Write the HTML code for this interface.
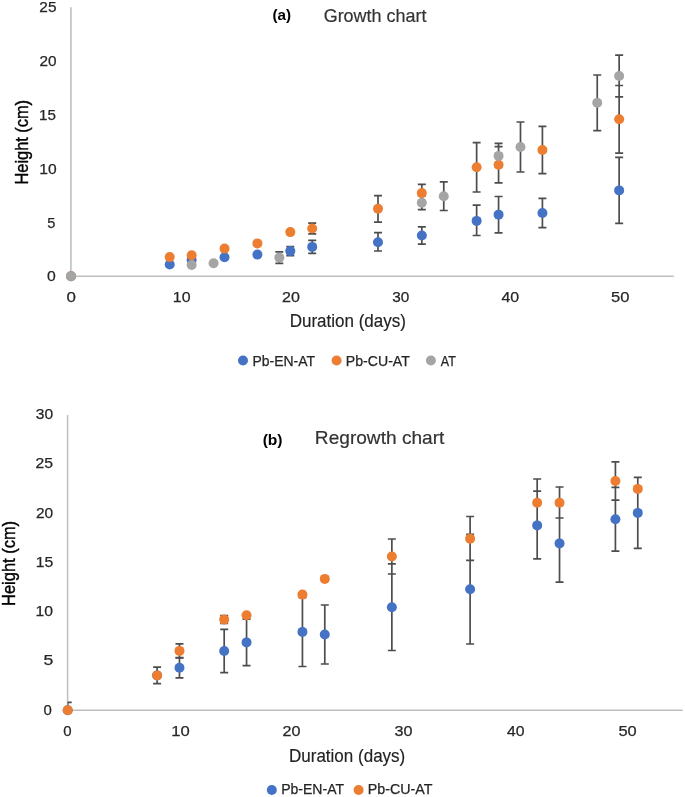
<!DOCTYPE html>
<html><head><meta charset="utf-8"><style>
html,body{margin:0;padding:0;background:#fff;}
svg{display:block;will-change:transform;}
body{-webkit-font-smoothing:antialiased;}
text{font-family:"Liberation Sans",sans-serif;}
</style></head><body>
<svg width="685" height="797" viewBox="0 0 685 797">
<rect width="685" height="797" fill="#fff"/>
<defs><clipPath id="ca"><rect x="70.9" y="7.2" width="602.9" height="269.0"/></clipPath></defs>
<line x1="70.9" y1="7.2" x2="70.9" y2="276.2" stroke="#BFBFBF" stroke-width="1.6"/>
<line x1="70.9" y1="276.2" x2="673.8" y2="276.2" stroke="#BFBFBF" stroke-width="1.6"/>
<g clip-path="url(#ca)" stroke="#4d4d4d" stroke-width="1.7" fill="none">
<path d="M286.29 246.65H294.29M286.29 255.55H294.29"/>
<path d="M308.21 240.40H316.21M308.21 253.40H316.21"/>
<path d="M373.99 232.70H381.99M373.99 251.00H381.99"/>
<path d="M417.83 226.80H425.83M417.83 244.20H425.83"/>
<path d="M472.64 205.20H480.64M472.64 235.50H480.64"/>
<path d="M494.57 196.50H502.57M494.57 232.80H502.57"/>
<path d="M538.42 198.35H546.42M538.42 227.65H546.42"/>
<path d="M615.15 157.40H623.15M615.15 223.40H623.15"/>
<path d="M308.21 223.15H316.21M308.21 233.85H316.21"/>
<path d="M373.99 195.60H381.99M373.99 222.20H381.99"/>
<path d="M417.83 184.30H425.83M417.83 201.90H425.83"/>
<path d="M472.64 142.60H480.64M472.64 192.00H480.64"/>
<path d="M494.57 146.60H502.57M494.57 182.80H502.57"/>
<path d="M538.42 126.30H546.42M538.42 173.70H546.42"/>
<path d="M615.15 85.50H623.15M615.15 153.10H623.15"/>
<path d="M275.33 251.90H283.33M275.33 263.30H283.33"/>
<path d="M417.83 196.00H425.83M417.83 209.60H425.83"/>
<path d="M439.76 181.90H447.76M439.76 210.50H447.76"/>
<path d="M494.57 143.40H502.57M494.57 167.00H502.57"/>
<path d="M516.49 122.00H524.49M516.49 172.00H524.49"/>
<path d="M593.23 75.00H601.23M593.23 130.60H601.23"/>
<path d="M615.15 55.10H623.15M615.15 96.90H623.15"/>
<path d="M290.29 246.65V255.55"/>
<path d="M312.21 223.15V233.85"/>
<path d="M312.21 240.40V253.40"/>
<path d="M377.99 195.60V222.20"/>
<path d="M377.99 232.70V251.00"/>
<path d="M421.83 184.30V209.60"/>
<path d="M421.83 226.80V244.20"/>
<path d="M476.64 142.60V192.00"/>
<path d="M476.64 205.20V235.50"/>
<path d="M498.57 143.40V182.80"/>
<path d="M498.57 196.50V232.80"/>
<path d="M542.42 126.30V173.70"/>
<path d="M542.42 198.35V227.65"/>
<path d="M619.15 55.10V153.10"/>
<path d="M619.15 157.40V223.40"/>
<path d="M279.33 251.90V263.30"/>
<path d="M443.76 181.90V210.50"/>
<path d="M520.49 122.00V172.00"/>
<path d="M597.23 75.00V130.60"/>
</g>
<circle cx="71.05" cy="276.20" r="5.0" fill="#4472C4"/>
<circle cx="169.71" cy="264.50" r="5.0" fill="#4472C4"/>
<circle cx="191.63" cy="259.90" r="5.0" fill="#4472C4"/>
<circle cx="224.52" cy="257.30" r="5.0" fill="#4472C4"/>
<circle cx="257.40" cy="254.60" r="5.0" fill="#4472C4"/>
<circle cx="290.29" cy="251.10" r="5.0" fill="#4472C4"/>
<circle cx="312.21" cy="246.90" r="5.0" fill="#4472C4"/>
<circle cx="377.99" cy="242.30" r="5.0" fill="#4472C4"/>
<circle cx="421.83" cy="235.50" r="5.0" fill="#4472C4"/>
<circle cx="476.64" cy="220.90" r="5.0" fill="#4472C4"/>
<circle cx="498.57" cy="214.65" r="5.0" fill="#4472C4"/>
<circle cx="542.42" cy="213.00" r="5.0" fill="#4472C4"/>
<circle cx="619.15" cy="190.40" r="5.0" fill="#4472C4"/>
<circle cx="71.05" cy="276.20" r="5.0" fill="#ED7D31"/>
<circle cx="169.71" cy="257.10" r="5.0" fill="#ED7D31"/>
<circle cx="191.63" cy="255.20" r="5.0" fill="#ED7D31"/>
<circle cx="224.52" cy="248.60" r="5.0" fill="#ED7D31"/>
<circle cx="257.40" cy="243.40" r="5.0" fill="#ED7D31"/>
<circle cx="290.29" cy="232.10" r="5.0" fill="#ED7D31"/>
<circle cx="312.21" cy="228.50" r="5.0" fill="#ED7D31"/>
<circle cx="377.99" cy="208.80" r="5.0" fill="#ED7D31"/>
<circle cx="421.83" cy="193.10" r="5.0" fill="#ED7D31"/>
<circle cx="476.64" cy="167.30" r="5.0" fill="#ED7D31"/>
<circle cx="498.57" cy="164.70" r="5.0" fill="#ED7D31"/>
<circle cx="542.42" cy="150.00" r="5.0" fill="#ED7D31"/>
<circle cx="619.15" cy="119.30" r="5.0" fill="#ED7D31"/>
<circle cx="71.05" cy="276.20" r="5.0" fill="#A5A5A5"/>
<circle cx="191.63" cy="265.00" r="5.0" fill="#A5A5A5"/>
<circle cx="213.56" cy="263.20" r="5.0" fill="#A5A5A5"/>
<circle cx="279.33" cy="257.60" r="5.0" fill="#A5A5A5"/>
<circle cx="421.83" cy="202.80" r="5.0" fill="#A5A5A5"/>
<circle cx="443.76" cy="196.20" r="5.0" fill="#A5A5A5"/>
<circle cx="498.57" cy="155.90" r="5.0" fill="#A5A5A5"/>
<circle cx="520.49" cy="147.00" r="5.0" fill="#A5A5A5"/>
<circle cx="597.23" cy="102.80" r="5.0" fill="#A5A5A5"/>
<circle cx="619.15" cy="76.00" r="5.0" fill="#A5A5A5"/>
<defs><clipPath id="cb"><rect x="67.6" y="415.0" width="615.1999999999999" height="295.29999999999995"/></clipPath></defs>
<line x1="67.6" y1="415.0" x2="67.6" y2="710.3" stroke="#BFBFBF" stroke-width="1.5"/>
<line x1="67.6" y1="710.3" x2="682.8" y2="710.3" stroke="#BFBFBF" stroke-width="1.5"/>
<g clip-path="url(#cb)" stroke="#4d4d4d" stroke-width="1.7" fill="none">
<path d="M175.48 657.60H183.48M175.48 677.80H183.48"/>
<path d="M220.19 629.30H228.19M220.19 672.70H228.19"/>
<path d="M242.55 619.20H250.55M242.55 665.60H250.55"/>
<path d="M298.44 597.30H306.44M298.44 666.50H306.44"/>
<path d="M320.79 605.00H328.79M320.79 664.00H328.79"/>
<path d="M387.86 563.90H395.86M387.86 650.50H395.86"/>
<path d="M466.11 534.40H474.11M466.11 644.00H474.11"/>
<path d="M533.18 491.10H541.18M533.18 558.90H541.18"/>
<path d="M555.53 504.70H563.53M555.53 582.10H563.53"/>
<path d="M611.42 487.30H619.42M611.42 551.10H619.42"/>
<path d="M633.78 477.40H641.78M633.78 548.40H641.78"/>
<path d="M63.70 702.40H71.70M63.70 718.00H71.70"/>
<path d="M153.12 667.10H161.12M153.12 683.70H161.12"/>
<path d="M175.48 643.90H183.48M175.48 657.90H183.48"/>
<path d="M220.19 615.70H228.19M220.19 623.50H228.19"/>
<path d="M387.86 539.00H395.86M387.86 574.00H395.86"/>
<path d="M466.11 516.50H474.11M466.11 560.30H474.11"/>
<path d="M533.18 479.00H541.18M533.18 526.60H541.18"/>
<path d="M555.53 487.00H563.53M555.53 518.00H563.53"/>
<path d="M611.42 461.90H619.42M611.42 500.10H619.42"/>
<path d="M179.48 643.90V677.80"/>
<path d="M224.19 615.70V623.50"/>
<path d="M224.19 629.30V672.70"/>
<path d="M246.55 619.20V665.60"/>
<path d="M302.44 597.30V666.50"/>
<path d="M324.79 605.00V664.00"/>
<path d="M391.86 539.00V650.50"/>
<path d="M470.11 516.50V644.00"/>
<path d="M537.18 479.00V558.90"/>
<path d="M559.53 487.00V582.10"/>
<path d="M615.42 461.90V551.10"/>
<path d="M637.78 477.40V548.40"/>
<path d="M67.70 702.40V718.00"/>
<path d="M157.12 667.10V683.70"/>
</g>
<circle cx="67.70" cy="710.20" r="5.0" fill="#4472C4"/>
<circle cx="157.12" cy="675.40" r="5.0" fill="#4472C4"/>
<circle cx="179.48" cy="667.70" r="5.0" fill="#4472C4"/>
<circle cx="224.19" cy="651.00" r="5.0" fill="#4472C4"/>
<circle cx="246.55" cy="642.40" r="5.0" fill="#4472C4"/>
<circle cx="302.44" cy="631.90" r="5.0" fill="#4472C4"/>
<circle cx="324.79" cy="634.50" r="5.0" fill="#4472C4"/>
<circle cx="391.86" cy="607.20" r="5.0" fill="#4472C4"/>
<circle cx="470.11" cy="589.20" r="5.0" fill="#4472C4"/>
<circle cx="537.18" cy="525.40" r="5.0" fill="#4472C4"/>
<circle cx="559.53" cy="543.40" r="5.0" fill="#4472C4"/>
<circle cx="615.42" cy="519.20" r="5.0" fill="#4472C4"/>
<circle cx="637.78" cy="512.90" r="5.0" fill="#4472C4"/>
<circle cx="67.70" cy="710.20" r="5.0" fill="#ED7D31"/>
<circle cx="157.12" cy="675.40" r="5.0" fill="#ED7D31"/>
<circle cx="179.48" cy="650.90" r="5.0" fill="#ED7D31"/>
<circle cx="224.19" cy="619.60" r="5.0" fill="#ED7D31"/>
<circle cx="246.55" cy="615.30" r="5.0" fill="#ED7D31"/>
<circle cx="302.44" cy="594.60" r="5.0" fill="#ED7D31"/>
<circle cx="324.79" cy="578.90" r="5.0" fill="#ED7D31"/>
<circle cx="391.86" cy="556.50" r="5.0" fill="#ED7D31"/>
<circle cx="470.11" cy="538.80" r="5.0" fill="#ED7D31"/>
<circle cx="537.18" cy="502.80" r="5.0" fill="#ED7D31"/>
<circle cx="559.53" cy="502.80" r="5.0" fill="#ED7D31"/>
<circle cx="615.42" cy="481.00" r="5.0" fill="#ED7D31"/>
<circle cx="637.78" cy="488.90" r="5.0" fill="#ED7D31"/>
<circle cx="243.0" cy="360.5" r="5.0" fill="#4472C4"/>
<circle cx="336.6" cy="360.5" r="5.0" fill="#ED7D31"/>
<circle cx="430.9" cy="360.5" r="5.0" fill="#A5A5A5"/>
<circle cx="271.8" cy="790.0" r="5.0" fill="#4472C4"/>
<circle cx="358.6" cy="790.0" r="5.0" fill="#ED7D31"/>
<text x="39.38" y="11.83" font-size="15.00" font-weight="normal" fill="#262626" textLength="17.08" lengthAdjust="spacingAndGlyphs" stroke="#262626" stroke-width="0.25">25</text>
<text x="39.45" y="66.21" font-size="15.00" font-weight="normal" fill="#262626" textLength="17.09" lengthAdjust="spacingAndGlyphs" stroke="#262626" stroke-width="0.25">20</text>
<text x="38.96" y="120.40" font-size="15.00" font-weight="normal" fill="#262626" textLength="16.86" lengthAdjust="spacingAndGlyphs" stroke="#262626" stroke-width="0.25">15</text>
<text x="39.37" y="173.80" font-size="15.00" font-weight="normal" fill="#262626" textLength="17.38" lengthAdjust="spacingAndGlyphs" stroke="#262626" stroke-width="0.25">10</text>
<text x="47.26" y="227.69" font-size="15.00" font-weight="normal" fill="#262626" textLength="8.09" lengthAdjust="spacingAndGlyphs" stroke="#262626" stroke-width="0.25">5</text>
<text x="47.14" y="281.24" font-size="15.00" font-weight="normal" fill="#262626" textLength="8.76" lengthAdjust="spacingAndGlyphs" stroke="#262626" stroke-width="0.25">0</text>
<text x="66.58" y="302.49" font-size="15.00" font-weight="normal" fill="#262626" textLength="9.40" lengthAdjust="spacingAndGlyphs" stroke="#262626" stroke-width="0.25">0</text>
<text x="172.81" y="302.30" font-size="15.00" font-weight="normal" fill="#262626" textLength="17.69" lengthAdjust="spacingAndGlyphs" stroke="#262626" stroke-width="0.25">10</text>
<text x="282.00" y="302.30" font-size="15.00" font-weight="normal" fill="#262626" textLength="17.86" lengthAdjust="spacingAndGlyphs" stroke="#262626" stroke-width="0.25">20</text>
<text x="392.17" y="302.45" font-size="15.00" font-weight="normal" fill="#262626" textLength="17.01" lengthAdjust="spacingAndGlyphs" stroke="#262626" stroke-width="0.25">30</text>
<text x="501.52" y="302.34" font-size="15.00" font-weight="normal" fill="#262626" textLength="17.69" lengthAdjust="spacingAndGlyphs" stroke="#262626" stroke-width="0.25">40</text>
<text x="611.12" y="302.46" font-size="15.00" font-weight="normal" fill="#262626" textLength="18.40" lengthAdjust="spacingAndGlyphs" stroke="#262626" stroke-width="0.25">50</text>
<text x="35.76" y="419.10" font-size="15.00" font-weight="normal" fill="#262626" textLength="17.36" lengthAdjust="spacingAndGlyphs" stroke="#262626" stroke-width="0.25">30</text>
<text x="35.64" y="468.32" font-size="15.00" font-weight="normal" fill="#262626" textLength="17.50" lengthAdjust="spacingAndGlyphs" stroke="#262626" stroke-width="0.25">25</text>
<text x="35.90" y="517.63" font-size="15.00" font-weight="normal" fill="#262626" textLength="17.24" lengthAdjust="spacingAndGlyphs" stroke="#262626" stroke-width="0.25">20</text>
<text x="35.66" y="567.04" font-size="15.00" font-weight="normal" fill="#262626" textLength="17.51" lengthAdjust="spacingAndGlyphs" stroke="#262626" stroke-width="0.25">15</text>
<text x="35.61" y="616.38" font-size="15.00" font-weight="normal" fill="#262626" textLength="17.47" lengthAdjust="spacingAndGlyphs" stroke="#262626" stroke-width="0.25">10</text>
<text x="43.44" y="665.12" font-size="15.00" font-weight="normal" fill="#262626" textLength="9.80" lengthAdjust="spacingAndGlyphs" stroke="#262626" stroke-width="0.25">5</text>
<text x="43.59" y="714.53" font-size="15.00" font-weight="normal" fill="#262626" textLength="8.31" lengthAdjust="spacingAndGlyphs" stroke="#262626" stroke-width="0.25">0</text>
<text x="63.26" y="736.25" font-size="15.00" font-weight="normal" fill="#262626" textLength="8.33" lengthAdjust="spacingAndGlyphs" stroke="#262626" stroke-width="0.25">0</text>
<text x="171.31" y="736.07" font-size="15.00" font-weight="normal" fill="#262626" textLength="18.50" lengthAdjust="spacingAndGlyphs" stroke="#262626" stroke-width="0.25">10</text>
<text x="282.62" y="736.05" font-size="15.00" font-weight="normal" fill="#262626" textLength="17.94" lengthAdjust="spacingAndGlyphs" stroke="#262626" stroke-width="0.25">20</text>
<text x="394.48" y="736.25" font-size="15.00" font-weight="normal" fill="#262626" textLength="17.96" lengthAdjust="spacingAndGlyphs" stroke="#262626" stroke-width="0.25">30</text>
<text x="506.92" y="736.13" font-size="15.00" font-weight="normal" fill="#262626" textLength="17.55" lengthAdjust="spacingAndGlyphs" stroke="#262626" stroke-width="0.25">40</text>
<text x="618.43" y="736.28" font-size="15.00" font-weight="normal" fill="#262626" textLength="18.29" lengthAdjust="spacingAndGlyphs" stroke="#262626" stroke-width="0.25">50</text>
<text x="272.38" y="19.56" font-size="15.50" font-weight="bold" fill="#000000" textLength="18.60" lengthAdjust="spacingAndGlyphs">(a)</text>
<text x="323.67" y="21.78" font-size="19.00" font-weight="normal" fill="#333333" textLength="102.82" lengthAdjust="spacingAndGlyphs" stroke="#333333" stroke-width="0.2">Growth chart</text>
<text x="262.65" y="444.94" font-size="15.50" font-weight="bold" fill="#000000" textLength="19.92" lengthAdjust="spacingAndGlyphs">(b)</text>
<text x="314.89" y="444.31" font-size="19.00" font-weight="normal" fill="#333333" textLength="129.46" lengthAdjust="spacingAndGlyphs" stroke="#333333" stroke-width="0.2">Regrowth chart</text>
<text x="289.67" y="326.70" font-size="17.50" font-weight="normal" fill="#222222" textLength="116.27" lengthAdjust="spacingAndGlyphs" stroke="#222222" stroke-width="0.15">Duration (days)</text>
<text x="288.97" y="762.03" font-size="17.50" font-weight="normal" fill="#222222" textLength="116.31" lengthAdjust="spacingAndGlyphs" stroke="#222222" stroke-width="0.15">Duration (days)</text>
<text transform="translate(27.90,184.54) rotate(-90)" x="0" y="0" font-size="17.75" font-weight="normal" fill="#000000" textLength="84.62" lengthAdjust="spacingAndGlyphs" stroke="#000000" stroke-width="0.4">Height (cm)</text>
<text transform="translate(14.98,605.95) rotate(-90)" x="0" y="0" font-size="17.75" font-weight="normal" fill="#000000" textLength="85.02" lengthAdjust="spacingAndGlyphs" stroke="#000000" stroke-width="0.4">Height (cm)</text>
<text x="252.48" y="366.00" font-size="14.20" font-weight="normal" fill="#262626" textLength="62.53" lengthAdjust="spacingAndGlyphs" stroke="#262626" stroke-width="0.25">Pb-EN-AT</text>
<text x="345.85" y="365.88" font-size="14.20" font-weight="normal" fill="#262626" textLength="63.99" lengthAdjust="spacingAndGlyphs" stroke="#262626" stroke-width="0.25">Pb-CU-AT</text>
<text x="440.76" y="365.95" font-size="14.20" font-weight="normal" fill="#262626" textLength="15.01" lengthAdjust="spacingAndGlyphs" stroke="#262626" stroke-width="0.25">AT</text>
<text x="281.21" y="794.18" font-size="14.20" font-weight="normal" fill="#262626" textLength="62.84" lengthAdjust="spacingAndGlyphs" stroke="#262626" stroke-width="0.25">Pb-EN-AT</text>
<text x="367.87" y="794.27" font-size="14.20" font-weight="normal" fill="#262626" textLength="64.63" lengthAdjust="spacingAndGlyphs" stroke="#262626" stroke-width="0.25">Pb-CU-AT</text>
</svg>
</body></html>
